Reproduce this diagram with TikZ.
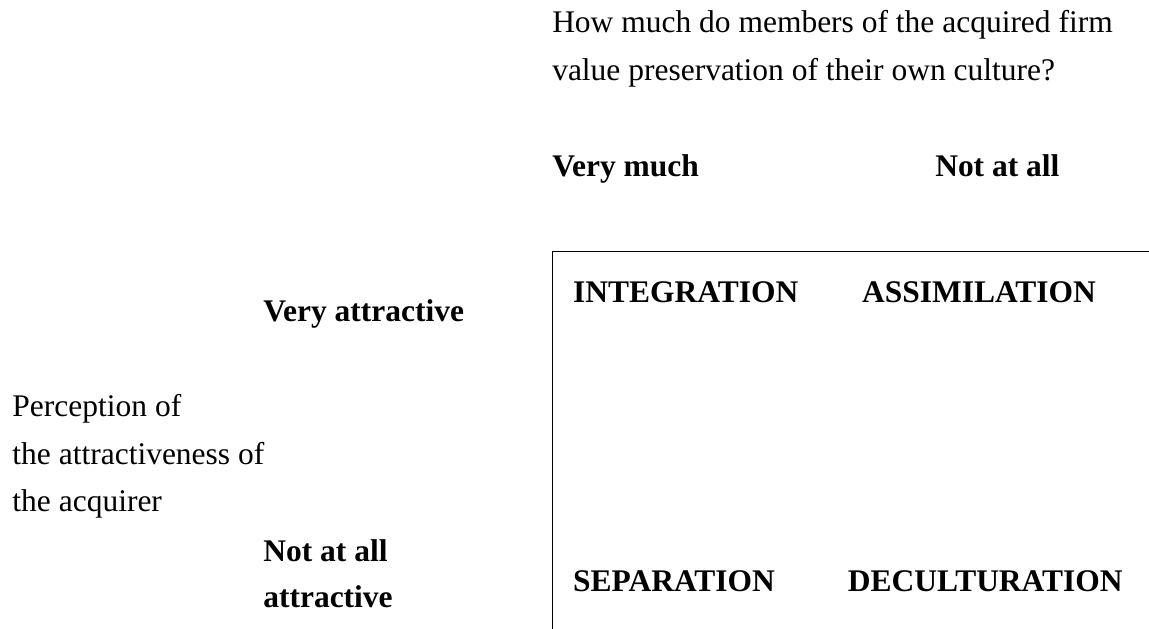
\documentclass[tikz,border=0pt]{standalone}
\usepackage{fontspec}
\setmainfont{Liberation Serif}
\usetikzlibrary{positioning}

\tikzset{
  txt/.style={anchor=base west, inner sep=0pt, font=\fontsize{12}{14}\selectfont},
  bold/.style={txt, font=\fontsize{12}{14}\selectfont\bfseries},
}

\begin{document}
\begin{tikzpicture}
    % рамка малюнка
    \useasboundingbox (0,0) rectangle (15.39,8.42);

    % кут таблиці: верхня лінія та ліва лінія
    \coordinate (TL) at (7.40,5.05);
    \coordinate (TR) at (15.39,5.05);
    \coordinate (BL) at (7.40,0);
    \draw[semithick] (TR) -- (TL) -- (BL);

    % питання вгорі
    \node[txt] (q1) at (7.39,7.98) {How much do members of the acquired firm};
    \node[txt] (q2) at (7.39,7.34) {value preservation of their own culture?};
    \node[bold] (much) at (7.39,6.05) {Very much};
    \node[bold] (notall) at (12.52,6.05) {Not at all};

    % підпис зліва
    \node[bold] (veryattr) at (3.52,4.11) {Very attractive};
    \node[txt] (p1) at (0.16,2.84) {Perception of};
    \node[txt] (p2) at (0.16,2.20) {the attractiveness of};
    \node[txt] (p3) at (0.16,1.57) {the acquirer};
    \node[bold] (notattr1) at (3.52,0.90) {Not at all};
    \node[bold] (notattr2) at (3.52,0.28) {attractive};

    % чотири стратегії
    \node[bold] (integr) at (7.67,4.37) {INTEGRATION};
    \node[bold] (assim) at (11.54,4.37) {ASSIMILATION};
    \node[bold] (separ) at (7.67,0.50) {SEPARATION};
    \node[bold] (decult) at (11.35,0.50) {DECULTURATION};
\end{tikzpicture}
\end{document}
